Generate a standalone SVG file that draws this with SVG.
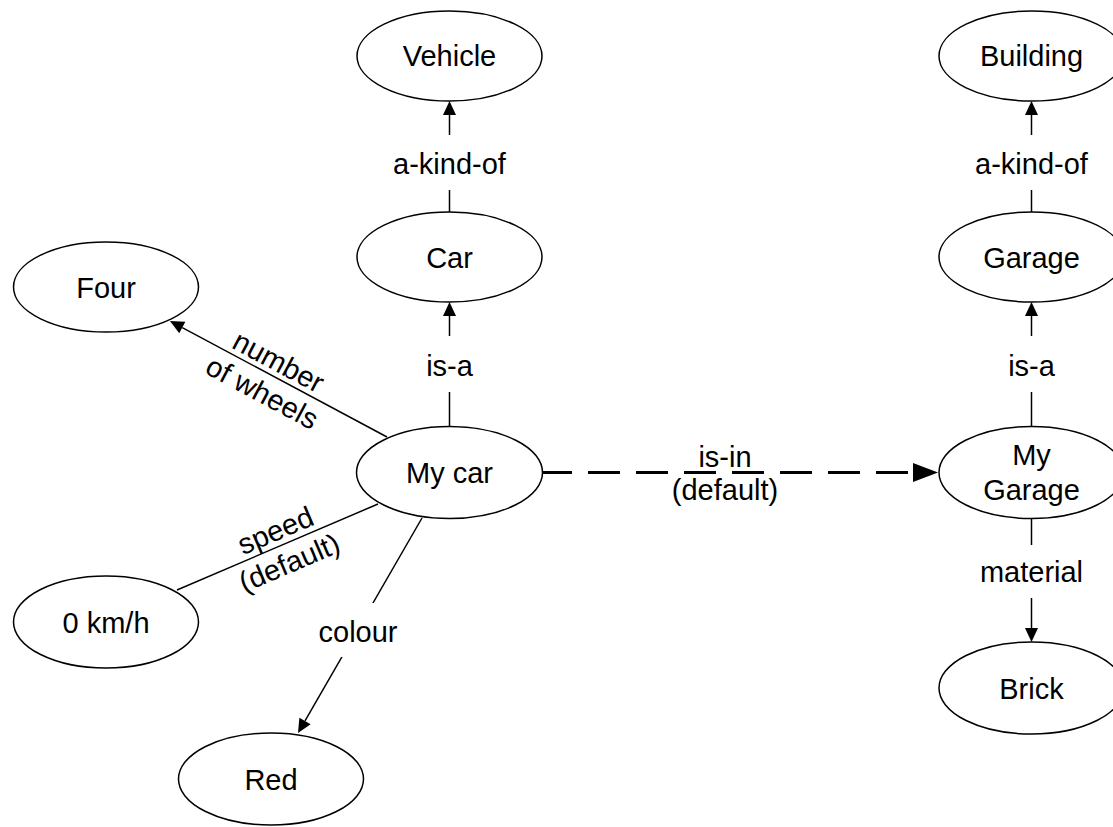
<svg xmlns="http://www.w3.org/2000/svg" width="1113" height="827" viewBox="0 0 1113 827">
<style>
.node ellipse{fill:#fff;stroke:#000;stroke-width:1.5}
text{font-family:"Liberation Sans",Arial,Helvetica,sans-serif;font-size:29px;fill:#000;text-anchor:middle}
.edge{fill:none;stroke:#000;stroke-width:1.5}
.dash{fill:none;stroke:#000;stroke-width:3;stroke-dasharray:32 16}
.bg{fill:#fff;stroke:none}
</style>
<defs>
<marker id="arr" markerUnits="userSpaceOnUse" markerWidth="15" markerHeight="14" refX="0" refY="6.5" orient="auto" overflow="visible">
<path d="M0,0 L14,6.5 L0,13 Z" fill="#000"/>
</marker>
<marker id="arrBig" markerUnits="userSpaceOnUse" markerWidth="26" markerHeight="20" refX="0" refY="9.5" orient="auto" overflow="visible">
<path d="M0,0 L25,9.5 L0,19 Z" fill="#000"/>
</marker>
</defs>
<g id="connectors">
<path class="edge" d="M449.5,212 L449.5,115" marker-end="url(#arr)"/>
<path class="edge" d="M449.5,426 L449.5,316" marker-end="url(#arr)"/>
<path class="edge" d="M1031.5,212 L1031.5,115" marker-end="url(#arr)"/>
<path class="edge" d="M1031.5,426 L1031.5,316" marker-end="url(#arr)"/>
<path class="edge" d="M1031.5,518 L1031.5,628" marker-end="url(#arr)"/>
<path class="edge" d="M387,437 L182.3,327.6" marker-end="url(#arr)"/>
<path class="edge" d="M378,504 L177,590"/>
<path class="edge" d="M422,518 L305,720.9" marker-end="url(#arr)"/>
<path class="dash" d="M540,472.5 L913,472.5" marker-end="url(#arrBig)"/>
<rect class="bg" x="388" y="135" width="123" height="55"/>
<text x="449.5" y="174">a-kind-of</text>
<rect class="bg" x="420" y="336" width="60" height="56"/>
<text x="449.5" y="376">is-a</text>
<rect class="bg" x="970" y="135" width="123" height="55"/>
<text x="1031.5" y="174">a-kind-of</text>
<rect class="bg" x="1002" y="336" width="60" height="56"/>
<text x="1031.5" y="376">is-a</text>
<rect class="bg" x="978" y="545" width="107" height="53"/>
<text x="1031.5" y="582">material</text>
<rect class="bg" x="317" y="603" width="82" height="54"/>
<text x="358" y="642">colour</text>
<text transform="translate(271.6,374.9) rotate(28.1)"><tspan x="0" y="-5">number</tspan><tspan x="0" y="30">of wheels</tspan></text>
<text transform="translate(281.8,545.2) rotate(-23.16)"><tspan x="0" y="-6">speed</tspan><tspan x="0" y="29">(default)</tspan></text>
<text x="725" y="467">is-in</text>
<text x="725" y="500">(default)</text>
</g>
<g id="node-vehicle" class="node"><ellipse cx="449.5" cy="56" rx="92.5" ry="45"/><text x="449.5" y="66">Vehicle</text></g>
<g id="node-car" class="node"><ellipse cx="449.5" cy="257" rx="92.5" ry="45"/><text x="449.5" y="267.5">Car</text></g>
<g id="node-four" class="node"><ellipse cx="106" cy="287" rx="92.5" ry="45"/><text x="106" y="297.5">Four</text></g>
<g id="node-mycar" class="node"><ellipse cx="449.5" cy="472.5" rx="93" ry="46"/><text x="449.5" y="483">My car</text></g>
<g id="node-0kmh" class="node"><ellipse cx="106" cy="622" rx="92.5" ry="46"/><text x="106" y="632.5">0 km/h</text></g>
<g id="node-red" class="node"><ellipse cx="271" cy="779" rx="92.5" ry="46"/><text x="271" y="789.5">Red</text></g>
<g id="node-building" class="node"><ellipse cx="1031.5" cy="56" rx="92.5" ry="45"/><text x="1031.5" y="66">Building</text></g>
<g id="node-garage" class="node"><ellipse cx="1031.5" cy="257" rx="92.5" ry="45"/><text x="1031.5" y="267.5">Garage</text></g>
<g id="node-mygarage" class="node"><ellipse cx="1031.5" cy="472.5" rx="92.5" ry="46"/><text x="1031.5" y="465">My</text><text x="1031.5" y="500">Garage</text></g>
<g id="node-brick" class="node"><ellipse cx="1031.5" cy="688" rx="92.5" ry="46"/><text x="1031.5" y="698.5">Brick</text></g>
</svg>
